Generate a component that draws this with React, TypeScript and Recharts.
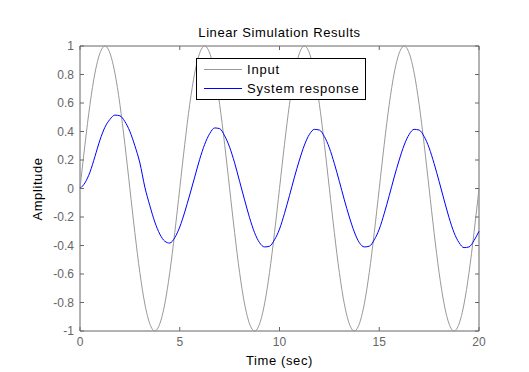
import { LineChart, Line, XAxis, YAxis, ReferenceArea } from "recharts";

// time samples (sec)
const time = [
  0, 0.25, 0.5, 0.75, 1, 1.25, 1.5, 1.75, 2, 2.25, 2.5, 2.75, 3, 3.25, 3.5, 3.75, 4, 4.25, 4.5, 4.75,
  5, 5.25, 5.5, 5.75, 6, 6.25, 6.5, 6.75, 7, 7.25, 7.5, 7.75, 8, 8.25, 8.5, 8.75, 9, 9.25, 9.5, 9.75,
  10, 10.25, 10.5, 10.75, 11, 11.25, 11.5, 11.75, 12, 12.25, 12.5, 12.75, 13, 13.25, 13.5, 13.75, 14, 14.25, 14.5, 14.75,
  15, 15.25, 15.5, 15.75, 16, 16.25, 16.5, 16.75, 17, 17.25, 17.5, 17.75, 18, 18.25, 18.5, 18.75, 19, 19.25, 19.5, 19.75,
  20,
];

const input = [
  0, 0.31, 0.59, 0.81, 0.95, 1, 0.95, 0.81, 0.59, 0.31, 0, -0.31, -0.59, -0.81, -0.95, -1, -0.95, -0.81, -0.59, -0.31,
  0, 0.31, 0.59, 0.81, 0.95, 1, 0.95, 0.81, 0.59, 0.31, 0, -0.31, -0.59, -0.81, -0.95, -1, -0.95, -0.81, -0.59, -0.31,
  0, 0.31, 0.59, 0.81, 0.95, 1, 0.95, 0.81, 0.59, 0.31, 0, -0.31, -0.59, -0.81, -0.95, -1, -0.95, -0.81, -0.59, -0.31,
  0, 0.31, 0.59, 0.81, 0.95, 1, 0.95, 0.81, 0.59, 0.31, 0, -0.31, -0.59, -0.81, -0.95, -1, -0.95, -0.81, -0.59, -0.31,
  0,
];

const response = [
  0, 0.04, 0.115, 0.225, 0.34, 0.43, 0.485, 0.515, 0.51, 0.47, 0.4, 0.3, 0.18, 0.01, -0.12, -0.235, -0.32, -0.37, -0.383, -0.345,
  -0.27, -0.165, -0.045, 0.08, 0.205, 0.31, 0.385, 0.425, 0.42, 0.37, 0.29, 0.18, 0.05, -0.08, -0.205, -0.31, -0.38, -0.41, -0.405, -0.36,
  -0.285, -0.175, -0.05, 0.08, 0.2, 0.305, 0.38, 0.415, 0.41, 0.365, 0.285, 0.175, 0.05, -0.08, -0.2, -0.305, -0.38, -0.41, -0.405, -0.36,
  -0.285, -0.175, -0.05, 0.08, 0.2, 0.305, 0.38, 0.415, 0.41, 0.365, 0.285, 0.175, 0.05, -0.08, -0.205, -0.31, -0.38, -0.415, -0.41, -0.365,
  -0.3,
];

const xTicks = [0, 5, 10, 15, 20];
const yTicks = [-1, -0.8, -0.6, -0.4, -0.2, 0, 0.2, 0.4, 0.6, 0.8, 1];

const data = time.map((t, i) => ({ t, input: input[i], response: response[i] }));

// plot box in page pixels
const PL = 80;
const PR = 479;
const PT = 46;
const PB = 331;
const AXIS = "#666";
const FONT = "'Liberation Sans', Arial, sans-serif";

function fmt(v: number) {
  return String(Math.round(v * 10) / 10);
}

function XTick({ x, y, payload }: any) {
  return (
    <g>
      <line x1={x} y1={PB} x2={x} y2={PB - 4} stroke={AXIS} />
      <line x1={x} y1={PT} x2={x} y2={PT + 4} stroke={AXIS} />
      <text x={x} y={y} dy={10} textAnchor="middle" fill="#666" fontSize={12} fontFamily={FONT}>
        {fmt(payload.value)}
      </text>
    </g>
  );
}

function YTick({ x, y, payload }: any) {
  return (
    <g>
      <line x1={PL} y1={y} x2={PL + 4} y2={y} stroke={AXIS} />
      <line x1={PR - 4} y1={y} x2={PR} y2={y} stroke={AXIS} />
      <text x={x} y={y} dy={4} textAnchor="end" fill="#666" fontSize={12} fontFamily={FONT}>
        {fmt(payload.value)}
      </text>
    </g>
  );
}

function LegendBox() {
  const row = (color: string, label: string) => (
    <div style={{ display: "flex", alignItems: "center", height: 19 }}>
      <div style={{ width: 38, height: 1, background: color, marginLeft: 7, marginRight: 5 }} />
      <span>{label}</span>
    </div>
  );
  return (
    <div
      style={{
        position: "absolute",
        left: 196,
        top: 58,
        width: 168,
        height: 39,
        border: "1px solid #000",
        background: "#fff",
        fontSize: 13,
        letterSpacing: 0.8,
        fontFamily: FONT,
        color: "#000",
        paddingTop: 1,
        boxSizing: "content-box",
      }}
    >
      {row("#999", "Input")}
      {row("#0000ff", "System response")}
    </div>
  );
}

const labelStyle = { fontSize: 13, letterSpacing: 0.6, fontFamily: FONT, color: "#000" };

export default function App() {
  return (
    <div style={{ position: "fixed", left: 0, top: 0, width: 529, height: 372, background: "#fff" }}>
      <LineChart width={529} height={372} data={data} margin={{ top: PT, right: 529 - PR, bottom: 11, left: 40 }}>
        <XAxis
          dataKey="t"
          type="number"
          domain={[0, 20]}
          ticks={xTicks}
          tickLine={false}
          tickSize={0}
          tickMargin={5}
          height={30}
          axisLine={false}
          tick={<XTick />}
        />
        <YAxis
          type="number"
          domain={[-1, 1]}
          ticks={yTicks}
          tickLine={false}
          tickSize={0}
          tickMargin={6}
          width={40}
          axisLine={false}
          tick={<YTick />}
        />
        <ReferenceArea x1={0} x2={20} y1={-1} y2={1} fill="none" stroke={AXIS} strokeWidth={1} ifOverflow="visible" />
        <Line dataKey="input" type="monotone" stroke="#999" strokeWidth={1} dot={false} isAnimationActive={false} />
        <Line dataKey="response" type="monotone" stroke="#0000ff" strokeWidth={1} dot={false} isAnimationActive={false} />
      </LineChart>
      <LegendBox />
      <div style={{ position: "absolute", left: PL, width: PR - PL, top: 25, textAlign: "center", ...labelStyle }}>
        Linear Simulation Results
      </div>
      <div style={{ position: "absolute", left: PL, width: PR - PL, top: 353, textAlign: "center", ...labelStyle }}>
        Time (sec)
      </div>
      <div
        style={{
          position: "absolute",
          left: 37,
          top: 189,
          transform: "translate(-50%, -50%) rotate(-90deg)",
          whiteSpace: "nowrap",
          ...labelStyle,
        }}
      >
        Amplitude
      </div>
    </div>
  );
}
